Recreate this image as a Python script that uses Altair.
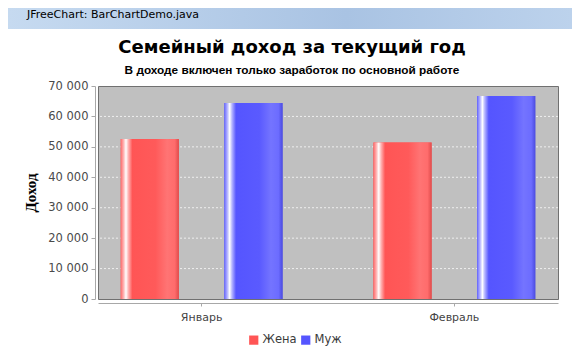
import altair as alt
import pandas as pd

months = ["Январь", "Февраль"]
series = ["Жена", "Муж"]
wife = [52600, 51400]
husband = [64400, 66700]
y_ticks = [0, 10000, 20000, 30000, 40000, 50000, 60000, 70000]
grid_values = [10000, 20000, 30000, 40000, 50000, 60000]
colors = ["#FF5555", "#5555FF"]
title_text = "Семейный доход за текущий год"
subtitle_text = "В доходе включен только заработок по основной работе"
window_text = "JFreeChart: BarChartDemo.java"

rows = []
for i, m in enumerate(months):
    rows.append({"month": m, "who": series[0], "value": wife[i]})
    rows.append({"month": m, "who": series[1], "value": husband[i]})
df = pd.DataFrame(rows)
grid_df = pd.DataFrame({"value": grid_values})

x_enc = alt.X("month:N", sort=months, title=None,
              scale=alt.Scale(paddingInner=0.36, paddingOuter=0.09),
              axis=alt.Axis(offset=4, domainColor="#a8a8a8", tickColor="#a8a8a8",
                            tickSize=3, labelAngle=0, labelFont="DejaVu Sans",
                            labelFontSize=11, labelColor="#444444", labelPadding=5,
                            grid=False))
xo_enc = alt.XOffset("who:N", sort=series, scale=alt.Scale(paddingInner=0.44, paddingOuter=0))
y_scale = alt.Scale(domain=[0, 70000], nice=False)
y_axis = alt.Axis(values=y_ticks, labelOverlap=False,
                  labelExpr="replace(format(datum.value, ','), ',', ' ')",
                  offset=3, domainColor="#a8a8a8", tickColor="#a8a8a8",
                  tickSize=4, labelPadding=3, labelFont="DejaVu Sans",
                  labelFontSize=11.5, labelColor="#4a4a4a", grid=False,
                  titleFont="Liberation Serif", titleFontSize=15,
                  titleFontWeight="bold", titleColor="#000000",
                  titlePadding=9)
y_enc = alt.Y("value:Q", scale=y_scale, title="Доход", axis=y_axis)

base = alt.Chart(df)

grid = alt.Chart(grid_df).mark_rule(color="#eeeeee", strokeDash=[2, 2], strokeWidth=1).encode(
    y=y_enc
)

shadow = base.mark_bar(color="#9a9a9a", opacity=0.8, xOffset=4, yOffset=4, clip=True).encode(
    x=x_enc, xOffset=xo_enc, y=y_enc
)

legend_bars = base.mark_bar().encode(
    x=x_enc, xOffset=xo_enc, y=y_enc,
    color=alt.Color("who:N", sort=series, scale=alt.Scale(domain=series, range=colors),
                    legend=alt.Legend(title=None, orient="none", direction="horizontal",
                                      legendX=150, legendY=248, symbolType="square",
                                      symbolSize=85, symbolStrokeWidth=0,
                                      symbolOpacity=1, labelFont="DejaVu Sans",
                                      labelFontSize=11.5, labelColor="#3a3a3a",
                                      columnPadding=3, labelOffset=3, padding=0))
)

def grad(c0, c1, c2, c3, c4, c5, c6):
    return alt.LinearGradient(gradient="linear", x1=0, x2=1, y1=0, y2=0, stops=[
        alt.GradientStop(offset=0.0, color=c0),
        alt.GradientStop(offset=0.05, color=c1),
        alt.GradientStop(offset=0.09, color="#ffffff"),
        alt.GradientStop(offset=0.13, color=c1),
        alt.GradientStop(offset=0.2, color=c2),
        alt.GradientStop(offset=0.6, color=c3),
        alt.GradientStop(offset=0.8, color=c4),
        alt.GradientStop(offset=0.93, color=c5),
        alt.GradientStop(offset=1.0, color=c6),
    ])

red_grad = grad("#ff6a6a", "#ffb5b5", "#ff5555", "#ff5a5a", "#ff7474", "#ff6c6c", "#e04c4c")
blue_grad = grad("#6a6aff", "#b5b5ff", "#5555ff", "#5a5aff", "#7474ff", "#6c6cff", "#4c4ce0")

red_bars = base.mark_bar(color=red_grad).encode(
    x=x_enc, xOffset=xo_enc, y=y_enc
).transform_filter(alt.datum.who == series[0])
blue_bars = base.mark_bar(color=blue_grad).encode(
    x=x_enc, xOffset=xo_enc, y=y_enc
).transform_filter(alt.datum.who == series[1])

one = pd.DataFrame({"a": [0]})

# window title bar decoration
win_bar = alt.Chart(one).mark_rect(
    color=alt.LinearGradient(gradient="linear", x1=0, x2=1, y1=0, y2=0, stops=[
        alt.GradientStop(offset=0, color="#c6daf0"),
        alt.GradientStop(offset=0.6, color="#a9c3e3"),
        alt.GradientStop(offset=1, color="#bcd2ec"),
    ])
).encode(x=alt.value(-90), x2=alt.value(474), y=alt.value(-78), y2=alt.value(-57))
win_text = alt.Chart(one).mark_text(
    align="left", baseline="middle", font="DejaVu Sans", fontSize=11, color="#000000",
    text=window_text
).encode(x=alt.value(-71), y=alt.value(-71))

title_mark = alt.Chart(one).mark_text(
    align="center", baseline="middle", font="DejaVu Sans", fontSize=18,
    fontWeight="bold", color="#000000", text=title_text
).encode(x=alt.value(194), y=alt.value(-38))
subtitle_mark = alt.Chart(one).mark_text(
    align="center", baseline="middle", font="Liberation Sans", fontSize=11.8,
    fontWeight="bold", color="#000000", text=subtitle_text
).encode(x=alt.value(194), y=alt.value(-16))

chart = alt.layer(win_bar, win_text, title_mark, subtitle_mark, grid, shadow,
                  legend_bars, red_bars, blue_bars).properties(
    width=460, height=213,
    autosize=alt.AutoSizeParams(type="none"),
    padding={"left": 90, "top": 78, "right": 14, "bottom": 55},
    background="white",
).configure_view(fill="#C0C0C0", stroke="#707070", strokeWidth=1)

chart.save("out.html", embed_options={"renderer": "svg", "actions": False})
